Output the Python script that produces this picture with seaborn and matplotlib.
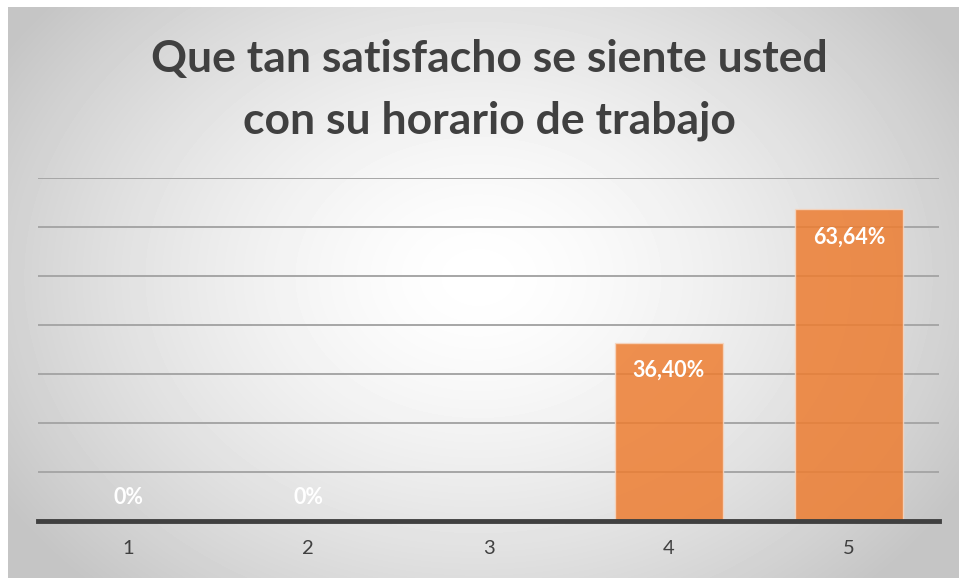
import matplotlib
matplotlib.use("Agg")
import matplotlib.pyplot as plt
import numpy as np
import pandas as pd
import seaborn as sns

# Data
categorias = ["1", "2", "3", "4", "5"]
valores = [0.0, 0.0, 0.0, 0.3640, 0.6364]
etiquetas = ["0%", "0%", "", "36,40%", "63,64%"]
titulo = "Que tan satisfacho se siente usted\ncon su horario de trabajo"

df = pd.DataFrame({"cat": categorias, "val": valores})

sns.set_style("white")
plt.rcParams["font.family"] = ["Lato", "DejaVu Sans"]

fig = plt.figure(figsize=(9.59, 5.78), dpi=100)
fig.patch.set_facecolor("white")

# Background: radial gradient like the Excel chart area
bg = fig.add_axes([8 / 959, 0, 951 / 959, 571 / 578])
h, w = 571, 951
yy, xx = np.mgrid[0:h, 0:w]
r = np.sqrt(((xx - 470) / 560) ** 2 + ((yy - 270) / 430) ** 2)
shade = 1 - 0.23 * np.clip(r, 0, 1) ** 1.5
bg.imshow(shade, cmap="gray", vmin=0, vmax=1, aspect="auto", interpolation="bilinear")
bg.set_axis_off()

ax = fig.add_axes([38 / 959, 57 / 578, 901 / 959, 343 / 578])
ax.patch.set_alpha(0)

sns.barplot(data=df, x="cat", y="val", color="#ED7D31", width=0.6,
            saturation=1, alpha=0.85, edgecolor="#F6D7C2", linewidth=1.0,
            ax=ax, zorder=3)

ax.set_ylim(0, 0.7)
ax.set_xlim(-0.5, 4.5)
ax.set_yticks(np.arange(0.1, 0.71, 0.1))
ax.yaxis.grid(True, color="#A6A6A6", linewidth=1.4, zorder=0)
ax.set_axisbelow(True)
ax.set_yticklabels([])
ax.tick_params(axis="y", length=0)
ax.tick_params(axis="x", length=0, pad=14, labelsize=14.5, colors="#404040")
ax.set_xlabel("")
ax.set_ylabel("")
for s in ["top", "right", "left"]:
    ax.spines[s].set_visible(False)
ax.spines["bottom"].set_color("#404040")
ax.spines["bottom"].set_linewidth(3.5)
ax.spines["bottom"].set_zorder(5)

for i, (v, lab) in enumerate(zip(valores, etiquetas)):
    if not lab:
        continue
    off = 24 if v == 0 else -28
    ax.annotate(lab, (i, v), xytext=(0, off), textcoords="offset pixels",
                ha="center", va="center", color="white", fontsize=15.5,
                fontweight="bold", zorder=6)

fig.text(0.51, 0.845, titulo, ha="center", va="center", fontsize=32,
         fontweight="bold", color="#404040", linespacing=1.65)

plt.savefig("out.png", dpi=100)
